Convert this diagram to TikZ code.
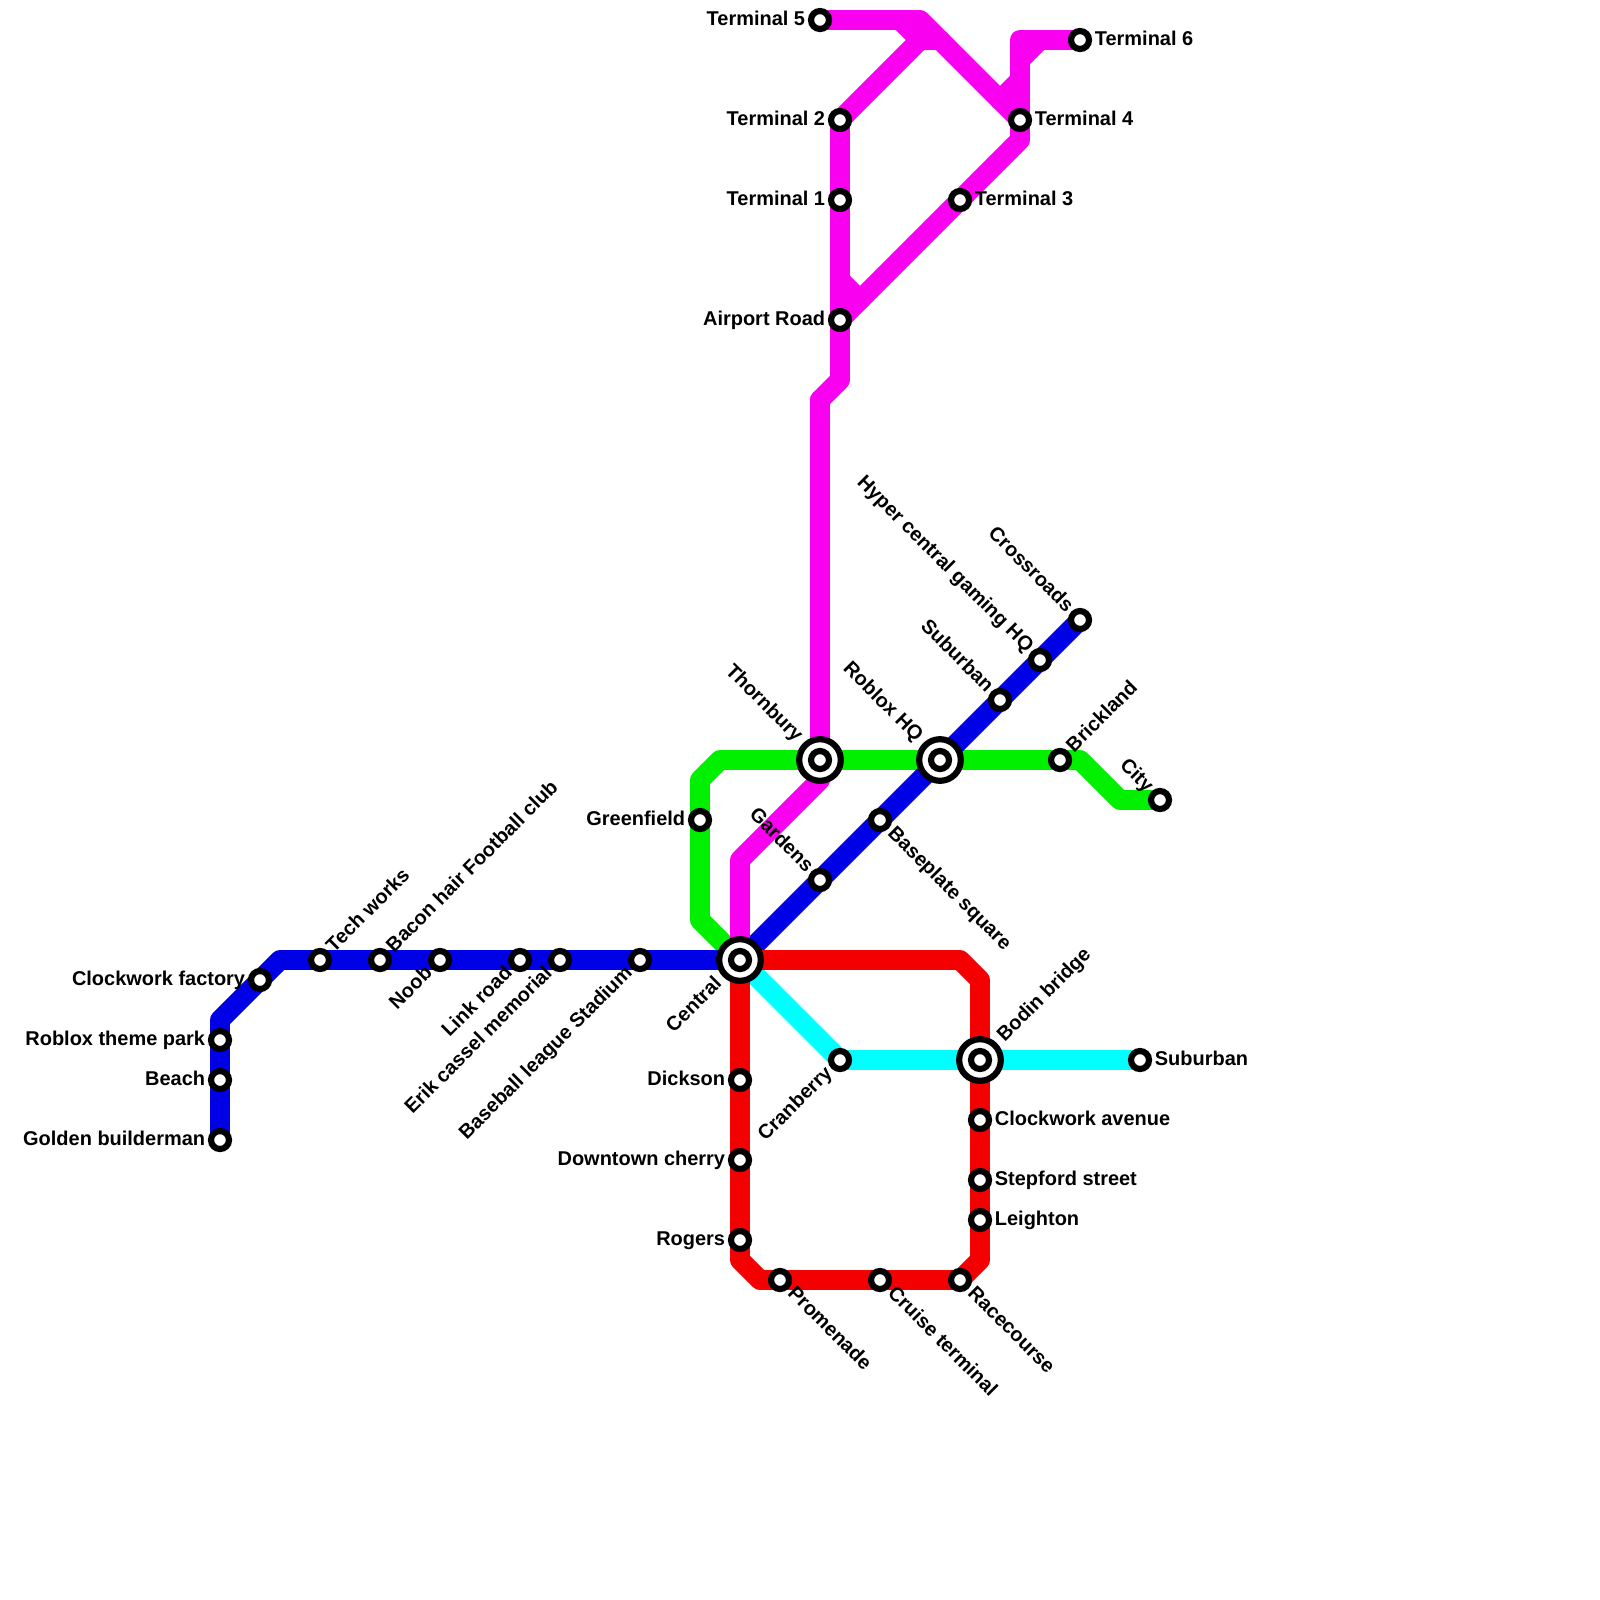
\documentclass[tikz,border=0pt]{standalone}
\usepackage{fontspec}
\setmainfont{Liberation Sans}
\usepackage{xcolor}
\definecolor{linemagenta}{RGB}{250,0,240}
\definecolor{linegreen}{RGB}{0,240,0}
\definecolor{lineblue}{RGB}{0,0,230}
\definecolor{linered}{RGB}{245,0,0}
\definecolor{linecyan}{RGB}{0,255,255}
\tikzset{
  metro/.style={line width=14.2pt,line join=round,line cap=round},
  stop/.style={circle,draw=black,fill=white,line width=4.4pt,minimum size=12.8pt,inner sep=0pt},
  hub/.style={circle,draw=black,fill=white,line width=4.4pt,minimum size=29.6pt,inner sep=0pt},
  lbl/.style={font=\bfseries\fontsize{14.2pt}{16pt}\selectfont,inner sep=0pt,text=black},
  lblleft/.style={lbl,anchor=base east,xshift=-#1,yshift=-4pt},
  lblright/.style={lbl,anchor=base west,xshift=#1,yshift=-4pt},
  lblupright/.style={lbl,rotate=45,anchor=base west,xshift=#1,yshift=-3.7pt},
  lbldownright/.style={lbl,rotate=-45,anchor=base west,xshift=#1,yshift=-3.7pt},
  lblupleft/.style={lbl,rotate=-45,anchor=base east,xshift=-#1,yshift=-3.7pt},
  lbldownleft/.style={lbl,rotate=45,anchor=base east,xshift=-#1,yshift=-3.7pt}
}
\begin{document}
\begin{tikzpicture}[x=0.5cm,y=-0.5cm]
  \useasboundingbox (0,0) rectangle (80,80);
  \foreach \id/\x/\y in {tfive/41/1,ttwo/42/6,tone/42/10,airport/42/16,tthree/48/10,tfour/51/6,tsix/54/2,thornbury/41/38,robloxhq/47/38,central/37/48,greenfield/35/41,gardens/41/44,baseplate/44/41,brickland/53/38,city/58/40,crossroads/54/31,hyper/52/33,suburbanb/50/35,factory/13/49,tech/16/48,bacon/19/48,noob/22/48,link/26/48,erik/28/48,baseball/32/48,theme/11/52,beach/11/54,golden/11/57,bodin/49/53,cranberry/42/53,suburbanc/57/53,dickson/37/54,downtown/37/58,rogers/37/62,promenade/39/64,cruise/44/64,racecourse/48/64,clockave/49/56,stepford/49/59,leighton/49/61}
    \coordinate (\id) at (\x,\y);
  \foreach \id/\x/\y in {forkup/45/1,forkmid/46/2,forkend/47/2,towerlow/51/7,towertop/51/3,towerstep/52/2,towermid/51/4,towerdiag/50/5,airlow/42/14,airdiag/43/15}
    \coordinate (\id) at (\x,\y);
  \draw[metro,linegreen] (central) -- (35,46) -- (greenfield) -- (35,39) -- (36,38) -- (thornbury) -- (robloxhq) -- (brickland) -- (54,38) -- (56,40) -- (city);
  \draw[metro,linecyan] (central) -- (cranberry) -- (bodin) -- (suburbanc);
  \draw[metro,lineblue] (crossroads) -- (hyper) -- (suburbanb) -- (robloxhq) -- (baseplate) -- (gardens) -- (central) -- (baseball) -- (erik) -- (link) -- (noob) -- (bacon) -- (tech) -- (14,48) -- (factory) -- (11,51) -- (theme) -- (beach) -- (golden);
  \draw[metro,linemagenta] (central) -- (37,43) -- (41,39) -- (thornbury);
  \draw[metro,linemagenta] (41,20) -- (42,19) -- (airport) -- (tone) -- (ttwo) -- (forkmid) -- (forkend);
  \draw[metro,linemagenta] (thornbury) -- (41,20);
  \draw[metro,linemagenta] (tfive) -- (46,1) -- (tfour);
  \draw[metro,linemagenta] (forkup) -- (forkmid);
  \draw[metro,linemagenta] (airport) -- (tthree) -- (towerlow) -- (tfour) -- (51,2) -- (tsix);
  \draw[metro,linemagenta] (towertop) -- (towerstep);
  \draw[metro,linemagenta] (towermid) -- (towerdiag);
  \draw[metro,linemagenta] (airlow) -- (airdiag);
  \draw[metro,linered] (central) -- (48,48) -- (49,49) -- (bodin) -- (clockave) -- (stepford) -- (leighton) -- (49,63) -- (racecourse) -- (cruise) -- (promenade) -- (38,64) -- (37,63) -- (rogers) -- (downtown) -- (dickson) -- (central);
  \foreach \id in {thornbury,robloxhq,central,bodin}
    \node[hub] (\id-hub) at (\id) {};
  \foreach \id in {tfive,ttwo,tone,airport,tthree,tfour,tsix,thornbury,robloxhq,central,greenfield,gardens,baseplate,brickland,city,crossroads,hyper,suburbanb,factory,tech,bacon,noob,link,erik,baseball,theme,beach,golden,bodin,cranberry,suburbanc,dickson,downtown,rogers,promenade,cruise,racecourse,clockave,stepford,leighton}
    \node[stop] (\id-stop) at (\id) {};
  \foreach \id/\txt in {tfive/Terminal 5,ttwo/Terminal 2,tone/Terminal 1,airport/Airport Road,greenfield/Greenfield,factory/Clockwork factory,theme/Roblox theme park,beach/Beach,golden/Golden builderman,dickson/Dickson,downtown/Downtown cherry,rogers/Rogers}
    \node[lblleft=10.4pt] (\id-lbl) at (\id) {\txt};
  \foreach \id/\txt in {tsix/Terminal 6,tfour/Terminal 4,tthree/Terminal 3,suburbanc/Suburban,clockave/Clockwork avenue,stepford/Stepford street,leighton/Leighton}
    \node[lblright=10.4pt] (\id-lbl) at (\id) {\txt};
  \foreach \id/\txt in {tech/Tech works,bacon/Bacon hair Football club,brickland/Brickland}
    \node[lblupright=10.4pt] (\id-lbl) at (\id) {\txt};
  \foreach \id/\txt in {baseplate/Baseplate square,promenade/Promenade,cruise/Cruise terminal,racecourse/Racecourse}
    \node[lbldownright=10.4pt] (\id-lbl) at (\id) {\txt};
  \foreach \id/\txt in {gardens/Gardens,suburbanb/Suburban,hyper/Hyper central gaming HQ,crossroads/Crossroads,city/City}
    \node[lblupleft=10.4pt] (\id-lbl) at (\id) {\txt};
  \foreach \id/\txt in {cranberry/Cranberry,noob/Noob,link/Link road,erik/Erik cassel memorial,baseball/Baseball league Stadium}
    \node[lbldownleft=10.4pt] (\id-lbl) at (\id) {\txt};
  \node[lblupleft=21pt] (thornbury-lbl) at (thornbury) {Thornbury};
  \node[lblupleft=21pt] (robloxhq-lbl) at (robloxhq) {Roblox HQ};
  \node[lbldownleft=21pt] (central-lbl) at (central) {Central};
  \node[lblupright=21pt] (bodin-lbl) at (bodin) {Bodin bridge};
\end{tikzpicture}
\end{document}
